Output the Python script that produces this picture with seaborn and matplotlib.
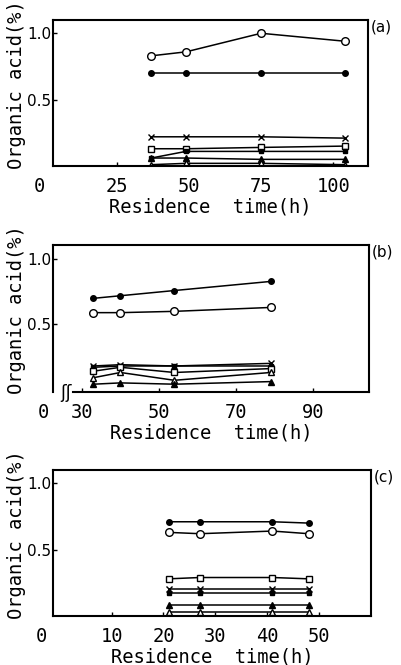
import numpy as np
import pandas as pd
import matplotlib
matplotlib.use("Agg")
import matplotlib.pyplot as plt
import seaborn as sns

sns.set_theme(style="ticks")
plt.rcParams['font.family'] = ['DejaVu Sans Mono', 'DejaVu Sans']
plt.rcParams.update({"text.color": "black", "axes.labelcolor": "black",
                     "xtick.color": "black", "ytick.color": "black"})

# ---------------- data ----------------
time_a = [37, 49, 75, 104]
a_open_circle = [0.83, 0.86, 1.00, 0.94]
a_filled_circle = [0.70, 0.70, 0.70, 0.70]
a_cross = [0.22, 0.22, 0.22, 0.21]
a_open_square = [0.13, 0.13, 0.14, 0.15]
a_filled_square = [0.06, 0.11, 0.11, 0.11]
a_filled_tri = [0.06, 0.06, 0.05, 0.05]
a_open_tri = [0.01, 0.02, 0.02, 0.01]

time_b = [33, 40, 54, 79]
b_filled_circle = [0.70, 0.72, 0.76, 0.83]
b_open_circle = [0.59, 0.59, 0.60, 0.63]
b_cross = [0.18, 0.19, 0.18, 0.20]
b_filled_square = [0.17, 0.18, 0.18, 0.18]
b_open_square = [0.14, 0.17, 0.13, 0.16]
b_open_tri = [0.09, 0.13, 0.07, 0.13]
b_filled_tri = [0.04, 0.05, 0.04, 0.06]

time_c = [21, 27, 41, 48]
c_filled_circle = [0.71, 0.71, 0.71, 0.70]
c_open_circle = [0.63, 0.62, 0.64, 0.62]
c_open_square = [0.28, 0.29, 0.29, 0.28]
c_cross = [0.20, 0.20, 0.20, 0.20]
c_filled_square = [0.17, 0.17, 0.17, 0.17]
c_filled_tri = [0.08, 0.08, 0.08, 0.08]
c_open_tri = [0.03, 0.03, 0.03, 0.03]

xticks_a = [25, 50, 75, 100]
xticks_b = [30, 50, 70, 90]
xticks_c = [10, 20, 30, 40, 50]
yticks = [0.5, 1.0]
panel_labels = ["(a)", "(b)", "(c)"]

# marker styles: (marker, size, facecolor)
styles = {
    "open_circle": ("o", 5.5, "white"),
    "filled_circle": ("o", 4.0, "black"),
    "cross": ("x", 5.0, "black"),
    "open_square": ("s", 4.5, "white"),
    "filled_square": ("s", 3.5, "black"),
    "filled_tri": ("^", 5.0, "black"),
    "open_tri": ("^", 5.0, "white"),
}

panels = [
    (time_a, {"open_circle": a_open_circle, "filled_circle": a_filled_circle,
              "cross": a_cross, "open_square": a_open_square,
              "filled_square": a_filled_square, "filled_tri": a_filled_tri,
              "open_tri": a_open_tri}),
    (time_b, {"filled_circle": b_filled_circle, "open_circle": b_open_circle,
              "cross": b_cross, "filled_square": b_filled_square,
              "open_square": b_open_square, "open_tri": b_open_tri,
              "filled_tri": b_filled_tri}),
    (time_c, {"filled_circle": c_filled_circle, "open_circle": c_open_circle,
              "open_square": c_open_square, "cross": c_cross,
              "filled_square": c_filled_square, "filled_tri": c_filled_tri,
              "open_tri": c_open_tri}),
]

fig = plt.figure(figsize=(4.01, 6.65), dpi=100)
W, H = 401, 665
boxes = [(53, 368, 20, 166), (53, 369, 245, 392), (53, 371, 470, 616)]
xlims = [(3, 112), (22.5, 104.5), (-1.3, 60)]
ylims = [(0, 1.1), (-0.02, 1.11), (0, 1.1)]
xtick_sets = [xticks_a, xticks_b, xticks_c]
zero_x = [39, 43, 41]

for i, ((times, series), (l, r, t, b)) in enumerate(zip(panels, boxes)):
    ax = fig.add_axes([l / W, 1 - b / H, (r - l) / W, (b - t) / H])
    for name, vals in series.items():
        m, ms, fc = styles[name]
        sns.lineplot(x=times, y=vals, ax=ax, color="black", lw=1.1,
                     marker=m, markersize=ms, markerfacecolor=fc,
                     markeredgecolor="black", markeredgewidth=1.0,
                     legend=False, sort=False, estimator=None)
    ax.set_xlim(*xlims[i])
    ax.set_ylim(*ylims[i])
    ax.set_xticks(xtick_sets[i])
    ax.set_xticklabels([str(v) for v in xtick_sets[i]], fontsize=13.5)
    ax.set_yticks(yticks)
    ax.set_yticklabels([f"{v:.1f}" for v in yticks], fontsize=11,
                       family="DejaVu Sans")
    ax.tick_params(axis="both", direction="in", length=3, width=1, color="black")
    ax.tick_params(axis="x", pad=8)
    ax.tick_params(axis="y", pad=1)
    for sp in ax.spines.values():
        sp.set_linewidth(1.5)
        sp.set_color("black")
        sp.set_visible(True)
    ax.set_xlabel("Residence  time(h)", fontsize=13.5, labelpad=1)
    ax.set_ylabel("Organic acid(%)", fontsize=13.5)
    ax.yaxis.set_label_coords(-0.085, 0.56)
    # origin label
    ax.text((zero_x[i] - l) / (r - l), -11 / (b - t), "0", transform=ax.transAxes,
            ha="center", va="top", fontsize=13.5)
    ax.text(1.01, 1.0, panel_labels[i], transform=ax.transAxes, ha="left",
            va="top", fontsize=11, family="DejaVu Sans")
    if i == 1:
        x0, x1 = ax.get_xlim()
        ax.spines["bottom"].set_bounds(x0 + 0.063 * (x1 - x0), x1)
        ax.text(0.04, -0.01, "ʃʃ", transform=ax.transAxes, ha="center",
                va="center", fontsize=12, family="DejaVu Sans")

fig.savefig("out.png", dpi=100, facecolor="white")
